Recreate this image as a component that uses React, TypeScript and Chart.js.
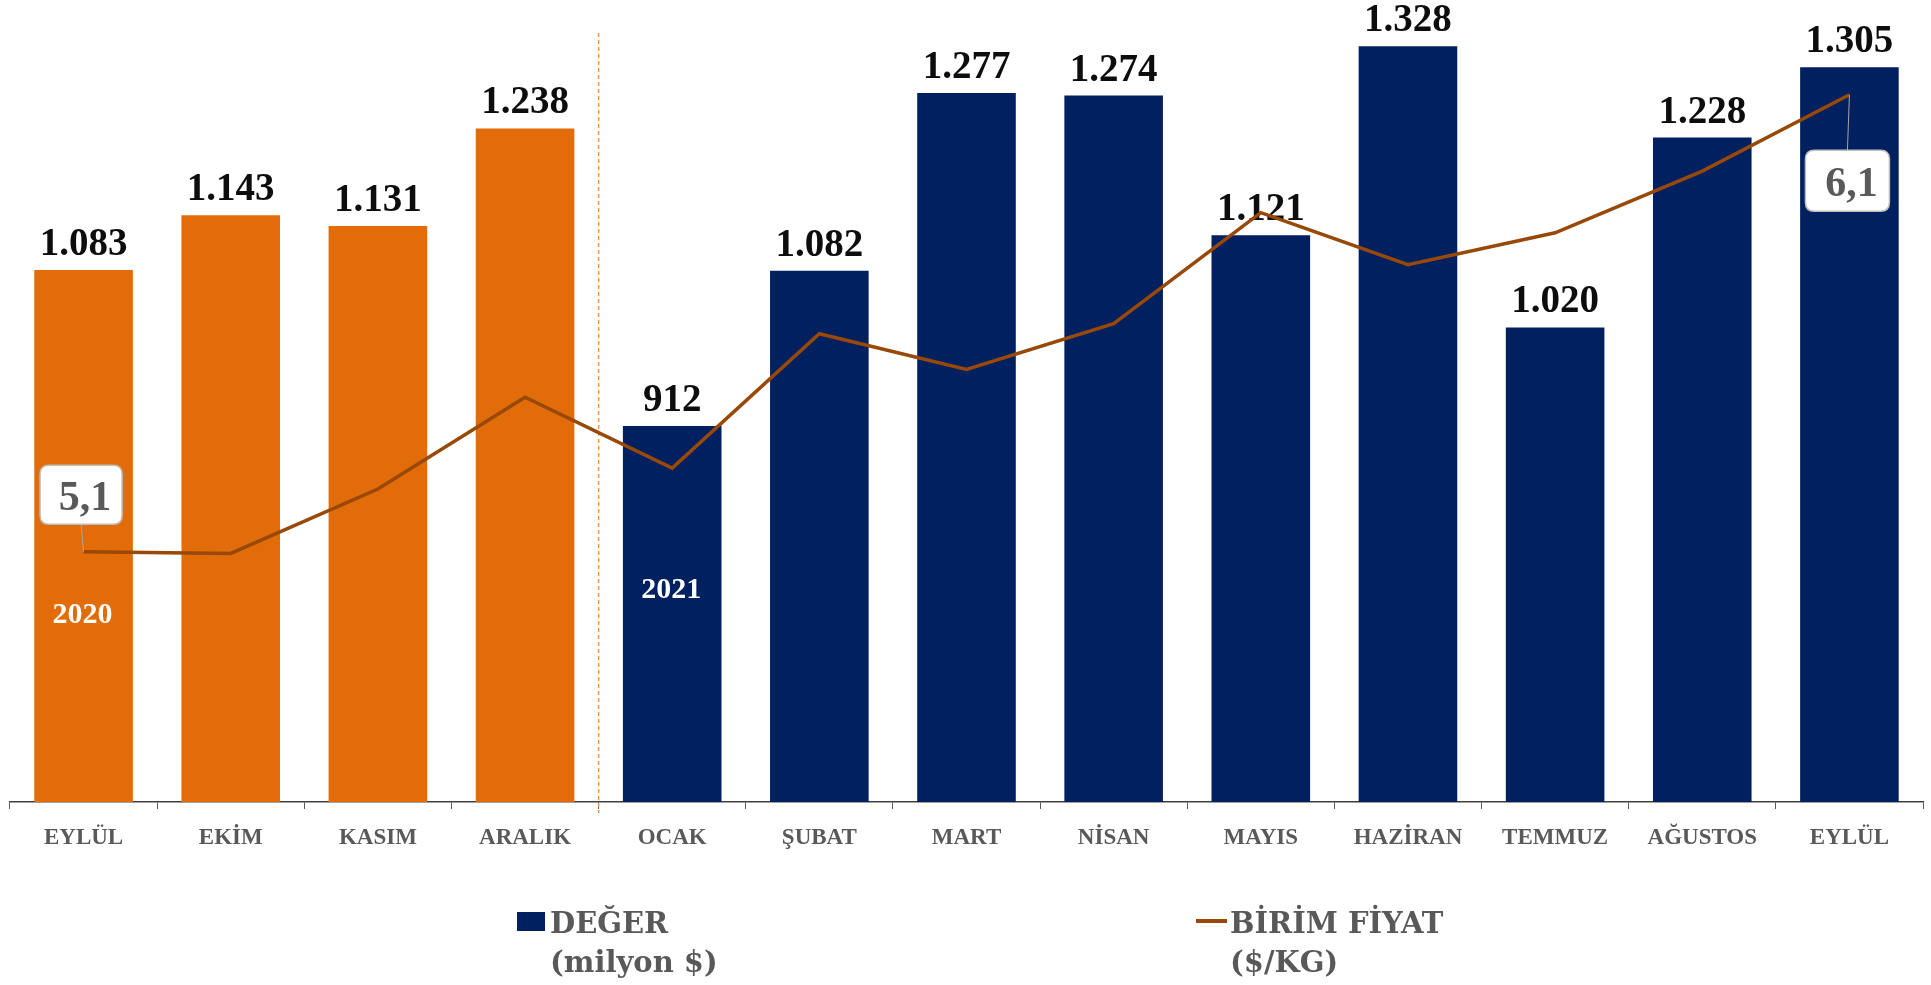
import React, { useEffect, useRef } from "react";
import { Chart, registerables } from "chart.js";

Chart.register(...registerables);

const categories = ["EYLÜL", "EKİM", "KASIM", "ARALIK", "OCAK", "ŞUBAT", "MART", "NİSAN", "MAYIS", "HAZİRAN", "TEMMUZ", "AĞUSTOS", "EYLÜL"];
const degerValues = [1083, 1143, 1131, 1238, 912, 1082, 1277, 1274, 1121, 1328, 1020, 1228, 1305];
const fiyatValues = [5.1, 5.096, 5.237, 5.438, 5.283, 5.577, 5.499, 5.599, 5.842, 5.728, 5.798, 5.933, 6.1];
const calloutIndices = [0, 12];
const yearLabels = ["2020", "2021"];
const yearIndices = [0, 4];
const legendDeger = ["DEĞER", "(milyon $)"];
const legendFiyat = ["BİRİM FİYAT", "($/KG)"];

const ORANGE = "#E36C0A";
const NAVY = "#002060";
const BROWN = "#984807";
const GRAY = "#595959";

const fmtThousands = (v: number) =>
  v >= 1000 ? Math.floor(v / 1000) + "." + String(v % 1000).padStart(3, "0") : String(v);
const fmtDecimal = (v: number) => v.toFixed(1).replace(".", ",");

const roundRect = (ctx: CanvasRenderingContext2D, x: number, y: number, w: number, h: number, r: number) => {
  ctx.beginPath();
  ctx.moveTo(x + r, y);
  ctx.lineTo(x + w - r, y);
  ctx.quadraticCurveTo(x + w, y, x + w, y + r);
  ctx.lineTo(x + w, y + h - r);
  ctx.quadraticCurveTo(x + w, y + h, x + w - r, y + h);
  ctx.lineTo(x + r, y + h);
  ctx.quadraticCurveTo(x, y + h, x, y + h - r);
  ctx.lineTo(x, y + r);
  ctx.quadraticCurveTo(x, y, x + r, y);
  ctx.closePath();
};

const decorPlugin = {
  id: "decor",
  beforeDatasetsDraw(chart: any) {
    const ctx = chart.ctx;
    const xs = chart.scales.x;
    const xDiv = (xs.getPixelForValue(3) + xs.getPixelForValue(4)) / 2;
    ctx.save();
    ctx.strokeStyle = "#F79646";
    ctx.lineWidth = 1.5;
    ctx.setLineDash([4, 3]);
    ctx.beginPath();
    ctx.moveTo(xDiv, 33);
    ctx.lineTo(xDiv, 813);
    ctx.stroke();
    ctx.restore();
  },
  afterDatasetDraw(chart: any, args: any) {
    if (args.index !== 0) return;
    const ctx = chart.ctx;
    const meta = chart.getDatasetMeta(0);
    ctx.save();
    ctx.font = "bold 39px 'Liberation Serif'";
    ctx.fillStyle = "#0D0D0D";
    ctx.textAlign = "center";
    ctx.textBaseline = "alphabetic";
    meta.data.forEach((bar: any, i: number) => {
      ctx.fillText(fmtThousands(degerValues[i]), bar.x, bar.y - 15);
    });
    // year labels
    ctx.font = "bold 30px 'Liberation Serif'";
    ctx.fillStyle = "#FFFFFF";
    const yearBaselines = [623, 598];
    yearIndices.forEach((idx, k) => {
      const bar = meta.data[idx];
      ctx.fillText(yearLabels[k], bar.x - 1, yearBaselines[k]);
    });
    ctx.restore();
  },
  afterDatasetsDraw(chart: any) {
    const ctx = chart.ctx;
    const meta = chart.getDatasetMeta(1);
    const offsets = [
      { dx: -2.5, dy: -57, w: 82, h: 59 },
      { dx: -2, dy: 86, w: 84, h: 61 },
    ];
    ctx.save();
    calloutIndices.forEach((idx, k) => {
      const pt = meta.data[idx];
      const o = offsets[k];
      const cx = pt.x + o.dx;
      const cy = pt.y + o.dy;
      ctx.strokeStyle = "#A6A6A6";
      ctx.lineWidth = 1;
      ctx.beginPath();
      ctx.moveTo(pt.x, pt.y);
      ctx.lineTo(cx, o.dy < 0 ? cy + o.h / 2 : cy - o.h / 2);
      ctx.stroke();
      roundRect(ctx, cx - o.w / 2, cy - o.h / 2, o.w, o.h, 9);
      ctx.fillStyle = "#FFFFFF";
      ctx.fill();
      ctx.strokeStyle = "#BFBFBF";
      ctx.lineWidth = 1.5;
      ctx.stroke();
      ctx.font = "bold 42px 'Liberation Serif'";
      ctx.fillStyle = GRAY;
      ctx.textAlign = "center";
      ctx.textBaseline = "alphabetic";
      ctx.fillText(fmtDecimal(fiyatValues[idx]), cx + 4, cy + 15);
    });

    // legend
    ctx.fillStyle = NAVY;
    ctx.fillRect(517, 912, 28, 19);
    ctx.strokeStyle = BROWN;
    ctx.lineWidth = 4;
    ctx.beginPath();
    ctx.moveTo(1196, 921);
    ctx.lineTo(1227, 921);
    ctx.stroke();
    ctx.font = "bold 29px 'DejaVu Serif'";
    ctx.fillStyle = GRAY;
    ctx.textAlign = "left";
    ctx.textBaseline = "alphabetic";
    ctx.fillText(legendDeger[0], 550, 933);
    ctx.fillText(legendDeger[1], 550, 972);
    ctx.fillText(legendFiyat[0], 1230, 933);
    ctx.fillText(legendFiyat[1], 1230, 972);
    ctx.restore();
  },
};

export default function App() {
  const ref = useRef<HTMLCanvasElement | null>(null);
  useEffect(() => {
    document.body.style.margin = "0";
    const canvas = ref.current;
    if (!canvas) return;
    const chart = new Chart(canvas, {
      type: "bar",
      data: {
        labels: categories,
        datasets: [
          {
            type: "bar",
            label: "DEĞER (milyon $)",
            data: degerValues,
            backgroundColor: degerValues.map((_, i) => (i < 4 ? ORANGE : NAVY)),
            categoryPercentage: 1,
            barPercentage: 0.67,
            yAxisID: "y",
            order: 2,
          } as any,
          {
            type: "line",
            label: "BİRİM FİYAT ($/KG)",
            data: fiyatValues,
            borderColor: BROWN,
            borderWidth: 3.5,
            pointRadius: 0,
            tension: 0,
            fill: false,
            yAxisID: "y1",
            order: 1,
          } as any,
        ],
      },
      options: {
        responsive: false,
        animation: false,
        devicePixelRatio: 1,
        layout: { padding: { left: 10, right: 8, top: 8, bottom: 0 } },
        plugins: {
          legend: { display: false },
          tooltip: { enabled: false },
        },
        scales: {
          x: {
            offset: true,
            grid: {
              offset: true,
              drawOnChartArea: false,
              drawTicks: true,
              tickLength: 7,
              color: GRAY,
              lineWidth: 1,
            },
            border: { display: true, color: "#404040", width: 1.5 },
            ticks: {
              color: GRAY,
              padding: 15,
              maxRotation: 0,
              autoSkip: false,
              font: { family: "'Liberation Serif'", size: 23, weight: "bold" },
            },
            afterFit: (scale: any) => {
              scale.height = 183;
            },
          },
          y: {
            display: false,
            min: 500,
            max: 1370,
          },
          y1: {
            display: false,
            position: "right",
            min: 4.552,
            max: 6.29,
          },
        },
      },
      plugins: [decorPlugin],
    });
    return () => chart.destroy();
  }, []);
  return <canvas ref={ref} width={1931} height={985} style={{ display: "block" }} />;
}
